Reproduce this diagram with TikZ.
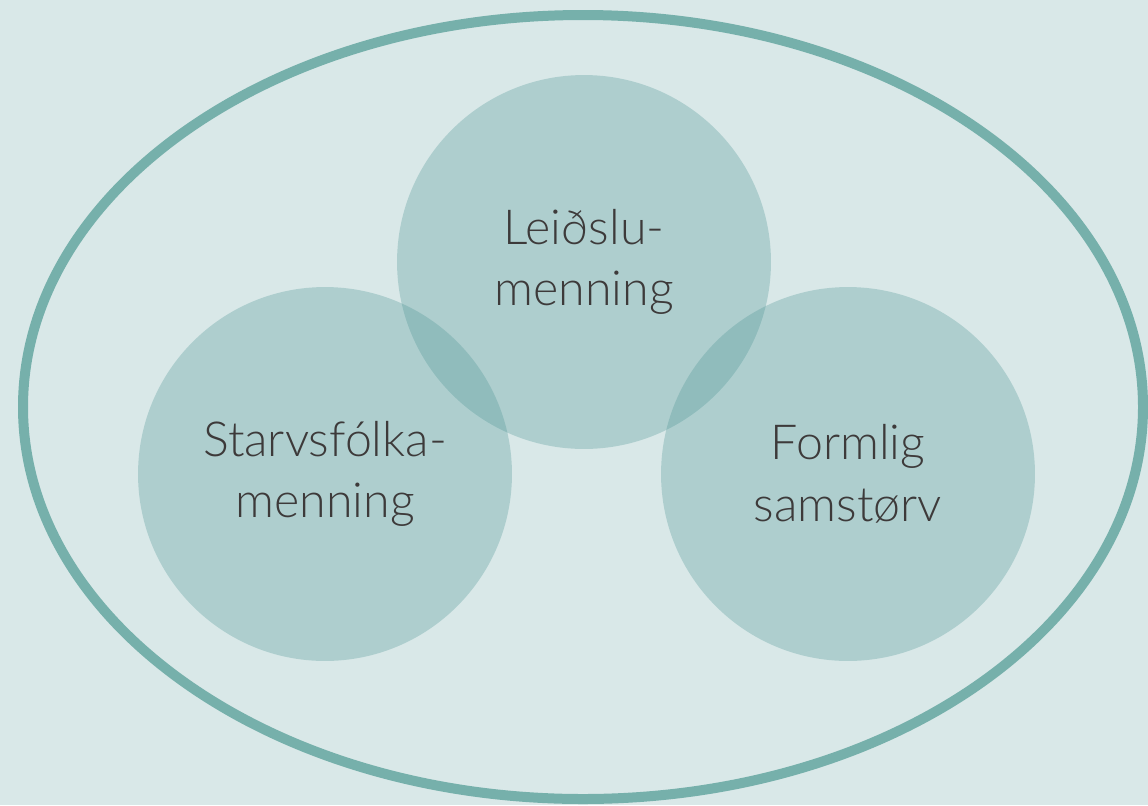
\documentclass[tikz,border=0pt]{standalone}
\usepackage{fontspec}
\setmainfont{Lato Light}
\definecolor{bgteal}{HTML}{D9E8E8}
\definecolor{rimteal}{HTML}{76B0AB}
\definecolor{discteal}{HTML}{4D9595}
\definecolor{labelgray}{HTML}{3D3A3A}
\begin{document}
\begin{tikzpicture}[
    x=0.02cm, y=-0.02cm,
    culture/.style={circle,fill=discteal,fill opacity=0.3,text opacity=1,
        minimum size=7.48cm,inner sep=0pt,align=center,text=labelgray,
        font=\fontsize{27.5}{35}\selectfont}
]
    % Background and frame
    \fill[bgteal] (0,0) rectangle (1148,805);
    \useasboundingbox (0,0) rectangle (1148,805);
    \draw[rimteal,line width=0.2cm] (583,407) ellipse [x radius=560, y radius=392];

    % Circles
    \node[culture] (lead) at (584,262) {Leiðslu-\\menning};
    \node[culture] (staff) at (325,474) {Starvsfólka-\\menning};
    \node[culture] (formal) at (848,474) {Formlig\\samstørv};
\end{tikzpicture}
\end{document}
